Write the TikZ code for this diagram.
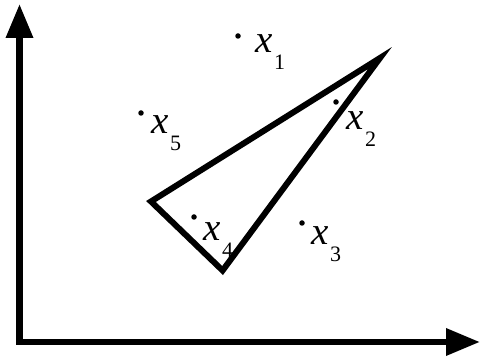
\documentclass[tikz,border=0pt]{standalone}
\usepackage{fontspec}
\setmainfont{Liberation Serif}
\usetikzlibrary{arrows.meta}
\tikzset{
  axis/.style={line width=6.5pt, -{Triangle[length=34pt,width=26pt]}},
  tri/.style={line width=6pt, line join=miter, miter limit=20},
  pt/.style={circle, fill=black, inner sep=0pt, minimum size=5.5pt},
  lbl/.style={anchor=base west, inner sep=0pt, font=\fontsize{39}{41}\selectfont}
}
\newcommand{\xlab}[1]{\textit{x}\kern1.5pt\raisebox{-17pt}{\fontsize{22}{24}\selectfont #1}}
\begin{document}
\begin{tikzpicture}[x=1pt,y=-1pt]
\useasboundingbox (0,0) rectangle (480,358);
\coordinate (O) at (19.5,342);
\coordinate (Y) at (19.5,4);
\coordinate (X) at (480,342);
\draw[axis, line cap=rect] (O) -- (Y);
\draw[axis, line cap=rect] (O) -- (X);
\coordinate (A) at (380,58);
\coordinate (B) at (151,201.5);
\coordinate (C) at (222.6,270.5);
\draw[tri] (A) -- (B) -- (C) -- cycle;
\node[pt] (p1) at (238,36) {};
\node[pt] (p5) at (141,113) {};
\node[pt] (p2) at (336,102) {};
\node[pt] (p4) at (194,217) {};
\node[pt] (p3) at (302,223) {};
\node[lbl] (l1) at (255,53) {\xlab{1}};
\node[lbl] (l5) at (151,134) {\xlab{5}};
\node[lbl] (l2) at (346,130) {\xlab{2}};
\node[lbl] (l4) at (203,241) {\xlab{4}};
\node[lbl] (l3) at (311,245) {\xlab{3}};
\end{tikzpicture}
\end{document}
